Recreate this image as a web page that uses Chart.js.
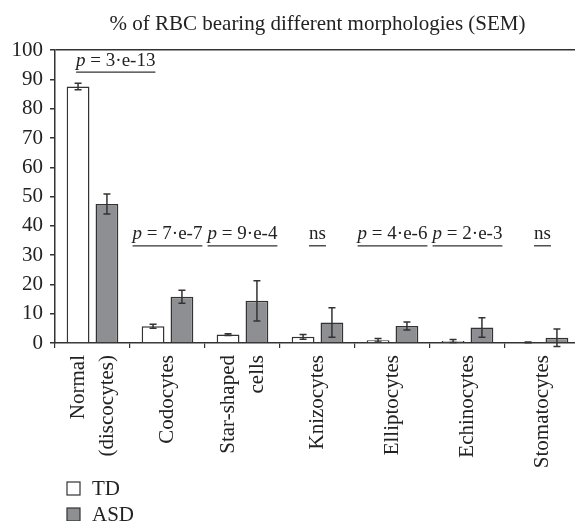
<!DOCTYPE html>
<html>
<head>
<meta charset="utf-8">
<script src="https://cdn.jsdelivr.net/npm/chart.js@4"></script>
<style>
  html, body { margin: 0; padding: 0; background: #fff; overflow: hidden; }
</style>
</head>
<body>
<canvas id="rbcChart" width="580" height="521"></canvas>
<script>
// data
const categories = [['Normal', '(discocytes)'], 'Codocytes', ['Star-shaped', 'cells'], 'Knizocytes', 'Elliptocytes', 'Echinocytes', 'Stomatocytes'];
const tdValues = [87.6, 5.7, 2.9, 2.1, 0.9, 0.7, 0.2];
const tdErrors = [1.1, 0.7, 0.3, 0.8, 0.6, 0.5, 0.1];
const asdValues = [47.5, 15.8, 14.4, 7.0, 5.8, 5.3, 1.8];
const asdErrors = [3.4, 2.2, 6.9, 5.0, 1.4, 3.3, 3.0];
const yTicks = [0, 10, 20, 30, 40, 50, 60, 70, 80, 90, 100];
const sigLabels = ['p = 3·e-13', 'p = 7·e-7', 'p = 9·e-4', 'ns', 'p = 4·e-6', 'p = 2·e-3', 'ns'];
const sigLevels = [92.5, 33.2, 33.2, 33.2, 33.2, 33.2, 33.2];
const sigShift = [0.31, 0, 0, 0, 0, 0, 0];

const SERIF = "'Liberation Serif', 'DejaVu Serif', serif";
const INK = '#222';

// error bars drawn on top of the bars
const errorBars = {
  id: 'errorBars',
  afterDatasetsDraw(chart) {
    const ctx = chart.ctx, y = chart.scales.y;
    chart.data.datasets.forEach((ds, di) => {
      const meta = chart.getDatasetMeta(di);
      meta.data.forEach((bar, i) => {
        const v = ds.data[i], e = ds.errors[i];
        const top = y.getPixelForValue(v + e), bot = y.getPixelForValue(v - e);
        ctx.save();
        ctx.strokeStyle = '#333';
        ctx.lineWidth = 1.5;
        ctx.beginPath();
        ctx.moveTo(bar.x, top); ctx.lineTo(bar.x, bot);
        ctx.moveTo(bar.x - 3.5, top); ctx.lineTo(bar.x + 3.5, top);
        ctx.moveTo(bar.x - 3.5, bot); ctx.lineTo(bar.x + 3.5, bot);
        ctx.stroke();
        ctx.restore();
      });
    });
  }
};

// vertical category labels, multi-line ones centred on their tick
const xLabels = {
  id: 'xLabels',
  afterDraw(chart) {
    const ctx = chart.ctx, x = chart.scales.x;
    ctx.save();
    ctx.fillStyle = INK;
    ctx.font = '21px ' + SERIF;
    ctx.textAlign = 'right';
    ctx.textBaseline = 'middle';
    chart.data.labels.forEach((lab, i) => {
      const lines = Array.isArray(lab) ? lab : [lab];
      const cx = x.getPixelForValue(i);
      lines.forEach((line, j) => {
        ctx.save();
        ctx.translate(cx + (j - (lines.length - 1) / 2) * 29, x.top + 12);
        ctx.rotate(-Math.PI / 2);
        ctx.fillText(line, 0, 0);
        ctx.restore();
      });
    });
    ctx.restore();
  }
};

// underlined significance labels
const sigMarks = {
  id: 'sigMarks',
  afterDraw(chart) {
    const ctx = chart.ctx, x = chart.scales.x, y = chart.scales.y;
    ctx.save();
    ctx.fillStyle = INK;
    ctx.strokeStyle = '#333';
    ctx.lineWidth = 1.3;
    ctx.textBaseline = 'alphabetic';
    ctx.textAlign = 'left';
    sigLabels.forEach((txt, i) => {
      const italic = txt.startsWith('p ') ? 'p' : '';
      const rest = italic ? txt.slice(1) : txt;
      ctx.font = 'italic 19px ' + SERIF;
      const w1 = italic ? ctx.measureText(italic).width : 0;
      ctx.font = '19px ' + SERIF;
      const w2 = ctx.measureText(rest).width;
      const cx = x.getPixelForValue(i + sigShift[i]);
      const uy = y.getPixelForValue(sigLevels[i]);
      const left = cx - (w1 + w2) / 2;
      if (italic) {
        ctx.font = 'italic 19px ' + SERIF;
        ctx.fillText(italic, left, uy - 6.5);
      }
      ctx.font = '19px ' + SERIF;
      ctx.fillText(rest, left + w1, uy - 6.5);
      ctx.beginPath();
      ctx.moveTo(left, uy); ctx.lineTo(left + w1 + w2, uy);
      ctx.stroke();
    });
    ctx.restore();
  }
};

// stacked legend in the lower left corner
const stackedLegend = {
  id: 'stackedLegend',
  afterDraw(chart) {
    const ctx = chart.ctx;
    const left = chart.chartArea.left + 12;
    ctx.save();
    ctx.font = '21px ' + SERIF;
    ctx.textBaseline = 'middle';
    chart.data.datasets.forEach((ds, i) => {
      const top = chart.height - 39 + i * 26;
      ctx.fillStyle = ds.backgroundColor;
      ctx.strokeStyle = '#333';
      ctx.lineWidth = 1.2;
      ctx.fillRect(left, top, 13, 13);
      ctx.strokeRect(left, top, 13, 13);
      ctx.fillStyle = INK;
      ctx.fillText(ds.label, left + 25, top + 7);
    });
    ctx.restore();
  }
};

new Chart(document.getElementById('rbcChart'), {
  type: 'bar',
  data: {
    labels: categories,
    datasets: [{
      label: 'TD',
      data: tdValues,
      errors: tdErrors,
      backgroundColor: '#ffffff',
      borderColor: '#333',
      borderWidth: 1.5
    }, {
      label: 'ASD',
      data: asdValues,
      errors: asdErrors,
      backgroundColor: '#8e8f92',
      borderColor: '#333',
      borderWidth: 1.5
    }]
  },
  options: {
    responsive: false,
    animation: false,
    events: [],
    categoryPercentage: 0.77,
    barPercentage: 0.79,
    layout: { padding: { left: 0, right: 0, top: 0, bottom: 58 } },
    plugins: {
      legend: { display: false },
      tooltip: { enabled: false },
      title: {
        display: true,
        fullSize: false,
        text: '% of RBC bearing different morphologies (SEM)',
        color: INK,
        font: { family: SERIF, size: 21, weight: 'normal' },
        padding: { top: 12, bottom: 13 }
      }
    },
    scales: {
      x: {
        grid: { drawOnChartArea: false, tickLength: 5, color: '#333', lineWidth: 1.2 },
        border: { display: true, color: '#333', width: 1.5 },
        ticks: { display: false },
        afterFit: s => { s.height = 120; }
      },
      y: {
        min: 0,
        max: 100,
        afterBuildTicks: s => { s.ticks = yTicks.map(v => ({ value: v })); },
        grid: {
          color: c => (c.tick && c.tick.value === 100 ? '#333' : 'rgba(0,0,0,0)'),
          tickColor: '#333',
          tickLength: 5,
          lineWidth: 1.5
        },
        border: { display: true, color: '#333', width: 1.5 },
        ticks: { color: INK, font: { family: SERIF, size: 21 }, padding: 7 },
        afterFit: s => { s.width = 55; }
      }
    }
  },
  plugins: [errorBars, xLabels, sigMarks, stackedLegend]
});
</script>
</body>
</html>
